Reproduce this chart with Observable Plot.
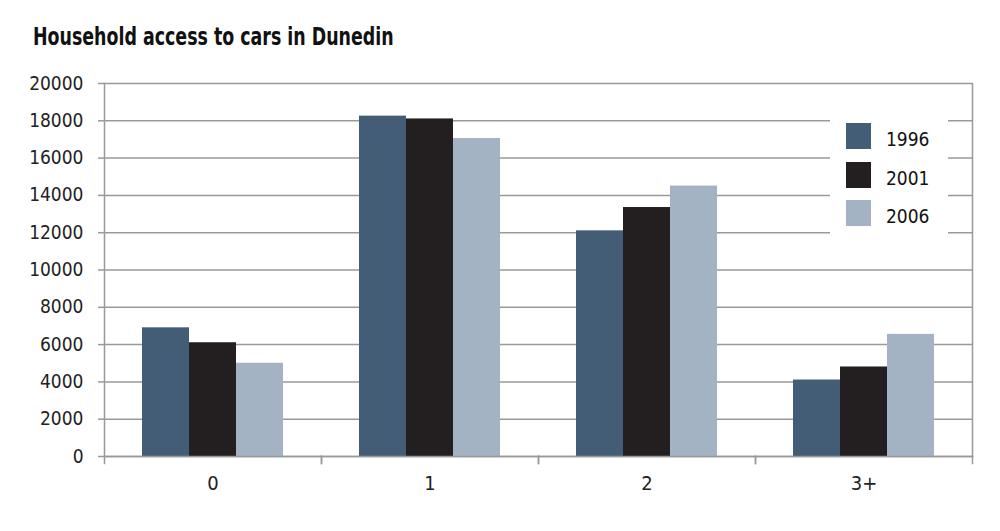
<!DOCTYPE html>
<html><head><meta charset="utf-8">
<script src="https://cdn.jsdelivr.net/npm/d3@7"></script>
<script src="https://cdn.jsdelivr.net/npm/@observablehq/plot@0.6"></script>
<style>
body{margin:0;background:#fff;font-family:"Liberation Sans Narrow","DejaVu Sans Condensed",sans-serif;}
#wrap{position:relative;width:1000px;height:531px;overflow:hidden;}
#title{position:absolute;left:33px;top:22px;font-weight:bold;font-size:25px;color:#111;line-height:30px;white-space:nowrap;transform:scaleX(0.774);transform-origin:left center;}
#chart{position:absolute;left:0;top:0;}
#legend{position:absolute;left:830px;top:115px;width:118px;height:122px;background:#fff;}
.item{position:absolute;left:16px;height:26px;display:flex;align-items:center;font-size:19px;color:#111;}
.sw{width:25px;height:26px;margin-right:15px;flex:none;}
</style>
</head><body>
<div id="wrap">
  <div id="chart"></div>
  <div id="title">Household access to cars in Dunedin</div>
  <div id="legend"></div>
</div>
<script>
const categories = ["0", "1", "2", "3+"];
const years = ["1996", "2001", "2006"];
const v1996 = [6900, 18250, 12100, 4100];
const v2001 = [6100, 18100, 13350, 4800];
const v2006 = [5000, 17050, 14500, 6550];
const colors = ["#445d76", "#231f20", "#a4b3c3"];
const yTicks = [0, 2000, 4000, 6000, 8000, 10000, 12000, 14000, 16000, 18000, 20000];

const series = [v1996, v2001, v2006];
const data = categories.flatMap((c, i) => years.map((y, j) => ({cat: c, year: y, value: series[j][i]})));

const font = '"Liberation Sans Narrow","DejaVu Sans Condensed",sans-serif';
const grey = "#999";

const plot = Plot.plot({
  width: 1000,
  height: 531,
  marginTop: 83,
  marginBottom: 75,
  marginLeft: 104,
  marginRight: 28,
  style: {fontFamily: font, fontSize: "19px", color: "#222", background: "transparent", overflow: "visible"},
  fx: {domain: categories, padding: 0},
  x: {domain: years, paddingInner: 0, paddingOuter: 0.79, axis: null},
  y: {domain: [0, 20000]},
  color: {domain: years, range: colors},
  marks: [
    Plot.gridY(yTicks, {stroke: grey, strokeOpacity: 1, strokeWidth: 1.5}),
    Plot.barY(data, {fx: "cat", x: "year", y: "value", fill: "year"}),
    Plot.frame({anchor: "left", facetAnchor: "left", stroke: grey, strokeWidth: 1.5}),
    Plot.frame({anchor: "right", facetAnchor: "right", stroke: grey, strokeWidth: 1.5}),
    Plot.frame({anchor: "bottom", stroke: grey, strokeWidth: 1.5}),
    Plot.frame({anchor: "left", insetTop: 373, insetBottom: -7, stroke: grey, strokeWidth: 1.5}),
    Plot.frame({anchor: "right", insetTop: 373, insetBottom: -7, stroke: grey, strokeWidth: 1.5}),
    Plot.axisY(yTicks, {tickSize: 6, tickPadding: 15, stroke: grey, strokeWidth: 1.5, fill: "#222", fontSize: 19, tickFormat: d => String(d), label: null}),
    Plot.axisFx({anchor: "bottom", tickSize: 0, tickPadding: 19, fill: "#222", fontSize: 20, label: null})
  ]
});
document.getElementById("chart").appendChild(plot);

const legend = document.getElementById("legend");
const tops = [8, 47, 85];
years.forEach((y, j) => {
  const it = document.createElement("div");
  it.className = "item";
  it.style.top = tops[j] + "px";
  const sw = document.createElement("div");
  sw.className = "sw";
  sw.style.background = colors[j];
  const t = document.createElement("span");
  t.textContent = y;
  t.style.marginTop = "6px";
  it.appendChild(sw);
  it.appendChild(t);
  legend.appendChild(it);
});
</script>
</body></html>
